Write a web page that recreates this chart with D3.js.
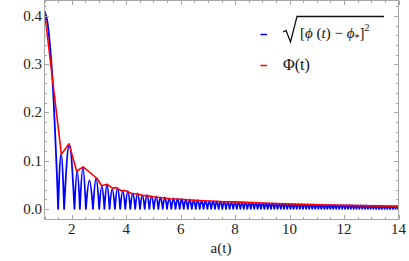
<!DOCTYPE html>
<html>
<head>
<meta charset="utf-8">
<script src="https://cdn.jsdelivr.net/npm/d3@7/dist/d3.min.js"></script>
<style>
  body { margin: 0; background: #fff; }
  svg { display: block; }
</style>
</head>
<body>
<div id="chart"></div>
<script>
// first lobe of |phi - phi*| (starts at its maximum)
const lobeA = [1.0, 1.1, 1.2, 1.27, 1.33, 1.38, 1.43, 1.47, 1.50];
const lobeV = [0.41, 0.39, 0.34, 0.29, 0.23, 0.17, 0.105, 0.05, 0.0];

// zero crossings of the oscillation
const zeroA = [1.50, 1.72, 2.10, 2.30, 2.52, 2.78, 3.01, 3.20, 3.389, 3.587, 3.780, 3.968,
  4.152, 4.331, 4.507, 4.680, 4.850, 5.016, 5.180, 5.341, 5.500, 5.657, 5.812, 5.964,
  6.115, 6.263, 6.410, 6.556, 6.699, 6.842, 6.982, 7.122, 7.260, 7.396, 7.532, 7.666,
  7.799, 7.931, 8.062, 8.192, 8.320, 8.448, 8.575, 8.701, 8.826, 8.950, 9.073, 9.195,
  9.317, 9.438, 9.558, 9.677, 9.796, 9.914, 10.031, 10.147, 10.263, 10.378, 10.493, 10.607,
  10.720, 10.833, 10.945, 11.057, 11.167, 11.278, 11.388, 11.497, 11.606, 11.714, 11.822, 11.930,
  12.036, 12.143, 12.248, 12.354, 12.459, 12.564, 12.668, 12.772, 12.875, 12.978, 13.081, 13.183,
  13.285, 13.386, 13.487, 13.587, 13.687, 13.788, 13.887, 13.986, 14.084];

// height of each hump between two zeros
const humpV = [0.113, 0.133, 0.078, 0.086, 0.059, 0.063, 0.047, 0.050, 0.041, 0.043, 0.037, 0.037,
  0.032, 0.032, 0.028, 0.029, 0.026, 0.026, 0.024, 0.024, 0.022, 0.022, 0.021, 0.0205,
  0.0195, 0.019, 0.018, 0.018, 0.017, 0.0168, 0.0162, 0.016, 0.0155, 0.0152, 0.0148, 0.0146,
  0.0143, 0.0141, 0.0138, 0.0135, 0.0132, 0.013, 0.0127, 0.0125, 0.0122, 0.012, 0.0118, 0.0116,
  0.0114, 0.0112, 0.011, 0.0108, 0.0106, 0.0104, 0.0102, 0.0100, 0.0098, 0.0097, 0.0095, 0.0094,
  0.0092, 0.0091, 0.0089, 0.0088, 0.0087, 0.0085, 0.0084, 0.0083, 0.0081, 0.008, 0.0079, 0.0078,
  0.0077, 0.0076, 0.0075, 0.0074, 0.0073, 0.0072, 0.0071, 0.007, 0.0069, 0.0068, 0.0067, 0.0066,
  0.0065, 0.0064, 0.0063, 0.0062, 0.0061, 0.006, 0.0059, 0.0058];

// envelope Phi(t)
const envA = [1.0, 1.62, 1.90, 2.18, 2.42, 2.93, 3.10, 3.30, 3.50, 3.62, 3.80, 3.95, 4.2, 4.4,
  4.6, 4.8, 5.0, 5.3, 5.6, 6.0, 6.5, 7.0, 7.5, 8.0, 9.0, 10, 11, 12, 13, 14];
const envV = [0.41, 0.113, 0.135, 0.078, 0.087, 0.063, 0.048, 0.051, 0.043, 0.044, 0.038, 0.038,
  0.032, 0.031, 0.028, 0.027, 0.025, 0.023, 0.021, 0.020, 0.018, 0.0165, 0.015, 0.0145, 0.012,
  0.010, 0.0085, 0.0072, 0.0063, 0.0055];

const xTicks = [2, 4, 6, 8, 10, 12, 14];
const yTicks = [0.0, 0.1, 0.2, 0.3, 0.4];

const width = 409, height = 261;
const x = d3.scaleLinear().domain([1, 14]).range([44.5, 398.5]);
const y = d3.scaleLinear().domain([-0.022, 0.432]).range([219.5, 0.5]);

const svg = d3.select('#chart').append('svg')
  .attr('width', width).attr('height', height)
  .attr('font-family', 'Liberation Serif, Times New Roman, serif');

svg.append('clipPath').attr('id', 'plot')
  .append('rect')
  .attr('x', x(1)).attr('y', y(0.432))
  .attr('width', x(14) - x(1)).attr('height', y(-0.022) - y(0.432));

const plot = svg.append('g').attr('clip-path', 'url(#plot)');

// blue: first lobe, then one half-sine hump per pair of zeros
const lobe = d3.line().x((d, i) => x(lobeA[i])).y(d => y(d)).curve(d3.curveMonotoneX);
const p = d3.path();
const k = 4 / (3 * Math.PI), m = 4 / 3;
humpV.forEach((h, i) => {
  const x0 = x(zeroA[i]), x1 = x(zeroA[i + 1]);
  const yb = y(0), yt = y(h);
  if (i === 0) p.moveTo(x0, yb);
  const w = x1 - x0, cy = yb + m * (yt - yb);
  p.bezierCurveTo(x0 + k * w, cy, x1 - k * w, cy, x1, yb);
});

plot.append('path')
  .attr('d', lobe(lobeV) + p.toString().replace(/^M[^C]*/, 'L' + x(zeroA[0]) + ',' + y(0)))
  .attr('fill', 'none')
  .attr('stroke', '#0000ff')
  .attr('stroke-width', 1.8)
  .attr('stroke-linejoin', 'round');

plot.append('path')
  .datum(envV)
  .attr('d', d3.line().x((d, i) => x(envA[i])).y(d => y(d)))
  .attr('fill', 'none')
  .attr('stroke', '#ff0000')
  .attr('stroke-width', 1.6)
  .attr('stroke-linejoin', 'round');

// frame
const frameColor = '#a6a6a6';
svg.append('rect')
  .attr('x', x(1)).attr('y', y(0.432))
  .attr('width', x(14) - x(1)).attr('height', y(-0.022) - y(0.432))
  .attr('fill', 'none').attr('stroke', frameColor).attr('stroke-width', 1);

const ticks = svg.append('g').attr('stroke', frameColor).attr('stroke-width', 1);
d3.range(1, 14.01, 0.5).forEach(v => {
  const len = (v % 2 === 0) ? 4.5 : 2.5;
  const xx = Math.round(x(v)) + 0.5;
  ticks.append('line').attr('x1', xx).attr('x2', xx).attr('y1', y(-0.022)).attr('y2', y(-0.022) - len);
  ticks.append('line').attr('x1', xx).attr('x2', xx).attr('y1', y(0.432)).attr('y2', y(0.432) + len);
});
d3.range(-0.02, 0.4301, 0.02).forEach(v => {
  const major = Math.abs(v * 10 - Math.round(v * 10)) < 1e-6;
  const len = major ? 4.5 : 2.5;
  const yy = Math.round(y(v)) + 0.5;
  ticks.append('line').attr('x1', x(1)).attr('x2', x(1) + len).attr('y1', yy).attr('y2', yy);
  ticks.append('line').attr('x1', x(14)).attr('x2', x(14) - len).attr('y1', yy).attr('y2', yy);
});

svg.append('g').selectAll('text').data(xTicks).join('text')
  .attr('x', d => x(d)).attr('y', 234)
  .attr('text-anchor', 'middle')
  .attr('font-size', 15).attr('fill', '#222')
  .text(d => d);
svg.append('g').selectAll('text').data(yTicks).join('text')
  .attr('x', 42).attr('y', d => y(d) + 5)
  .attr('text-anchor', 'end')
  .attr('font-size', 15).attr('fill', '#222')
  .text(d3.format('.1f'));

svg.append('text')
  .attr('x', 221).attr('y', 253)
  .attr('text-anchor', 'middle')
  .attr('font-size', 15).attr('fill', '#222')
  .text('a(t)');

// legend
const leg = svg.append('g');
leg.append('line').attr('x1', 260.5).attr('x2', 267).attr('y1', 34.5).attr('y2', 34.5)
  .attr('stroke', '#0000ff').attr('stroke-width', 1.5);
leg.append('line').attr('x1', 260.5).attr('x2', 267).attr('y1', 65.5).attr('y2', 65.5)
  .attr('stroke', '#ff0000').attr('stroke-width', 1.5);

const rad = d3.path();
rad.moveTo(283, 32); rad.lineTo(286, 30.5); rad.lineTo(290.5, 42); rad.lineTo(297, 16.5); rad.lineTo(384, 16.5);
leg.append('path').attr('d', rad.toString()).attr('fill', 'none')
  .attr('stroke', '#111').attr('stroke-width', 1.3).attr('stroke-linejoin', 'miter');

const t1 = leg.append('text').attr('x', 300).attr('y', 38)
  .attr('font-size', 15).attr('fill', '#111');
t1.append('tspan').text('[');
t1.append('tspan').attr('font-style', 'italic').text('ϕ');
t1.append('tspan').text(' (');
t1.append('tspan').attr('font-style', 'italic').text('t');
t1.append('tspan').text(') − ');
t1.append('tspan').attr('font-style', 'italic').text('ϕ');
t1.append('tspan').attr('font-size', 10).attr('dy', 3).text('*');
t1.append('tspan').attr('dy', -3).text(']');
t1.append('tspan').attr('font-size', 10).attr('dy', -7).text('2');

leg.append('text').attr('x', 283).attr('y', 70)
  .attr('font-size', 16).attr('fill', '#111')
  .text('Φ(t)');
</script>
</body>
</html>
